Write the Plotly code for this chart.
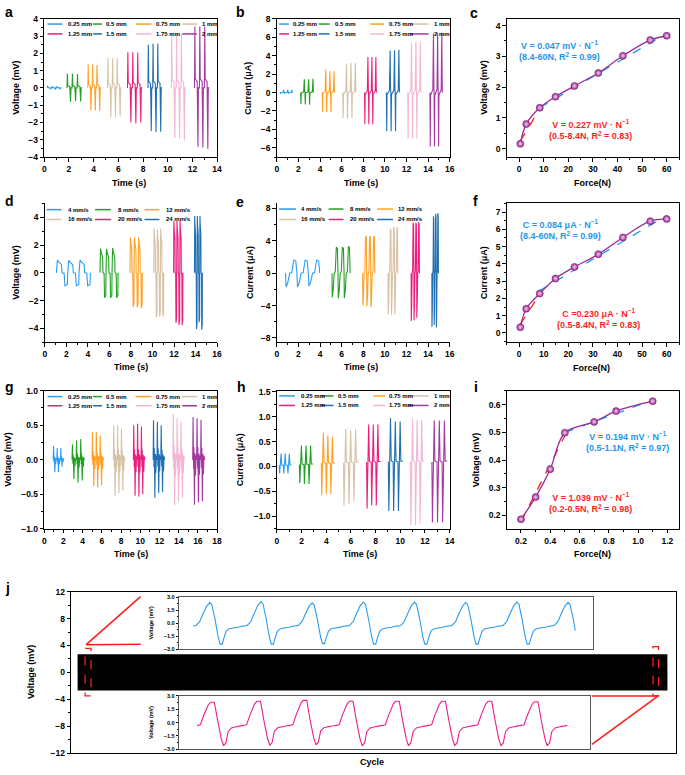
import numpy as np
import plotly.graph_objects as go

W, H = 685, 775
FONT = "Liberation Sans"

# ---------------- data ----------------
DIST_LABELS = ["0.25 mm", "0.5 mm", "0.75 mm", "1 mm", "1.25 mm", "1.5 mm", "1.75 mm", "2 mm"]
DIST_COLORS = ["#2b9cf0", "#23a023", "#ffa024", "#d6c2a6", "#ea1f7c", "#1f6fb2", "#f3b6d3", "#a33a9f"]
SPEED_LABELS = ["4 mm/s", "8 mm/s", "12 mm/s", "16 mm/s", "20 mm/s", "24 mm/s"]
SPEED_COLORS = ["#2b9cf0", "#23a023", "#ffa024", "#d6c2a6", "#ea1f7c", "#1f6fb2"]

# panel a : voltage vs time (distance)
A_START = [0.24, 1.84, 3.53, 5.13, 6.74, 8.40, 10.30, 12.17]
A_END = [1.39, 3.07, 4.60, 6.26, 7.94, 9.55, 11.47, 13.37]
A_PEAK = [[0.12, 0.1, 0.1], [0.84, 0.82, 0.8], [1.37, 1.35, 1.33], [1.75, 1.72, 1.72],
          [2.07, 2.07, 2.05], [2.5, 2.55, 2.57], [3.12, 3.12, 3.1], [3.56, 3.55, 3.55]]
A_TROUGH = [[-0.08, -0.1, -0.08], [-0.82, -0.75, -0.78], [-1.28, -1.3, -1.3], [-1.7, -1.7, -1.65],
            [-2.0, -2.05, -2.0], [-2.5, -2.55, -2.53], [-2.9, -2.97, -3.05], [-3.4, -3.45, -3.52]]

# panel b : current vs time (distance)
B_START = [0.30, 2.20, 4.20, 6.10, 8.12, 10.14, 12.12, 14.17]
B_END = [1.45, 3.40, 5.35, 7.33, 9.22, 11.36, 13.34, 15.33]
B_PEAK = [[0.3, 0.3, 0.3], [1.45, 1.45, 1.5], [2.5, 2.3, 2.3], [3.15, 3.2, 3.2],
          [3.85, 3.85, 3.85], [4.55, 4.6, 4.65], [5.4, 5.5, 5.6], [6.4, 6.5, 6.5]]
B_TROUGH = [[-0.15, -0.1, -0.1], [-1.25, -1.3, -1.3], [-2.1, -2.1, -2.1], [-2.8, -2.8, -2.8],
            [-3.45, -3.45, -3.45], [-4.2, -4.2, -4.2], [-4.95, -4.95, -4.95], [-5.85, -5.85, -5.85]]

# panel d : voltage vs time (speed)
D_START = [1.07, 5.12, 7.91, 10.12, 11.96, 13.90]
D_END = [4.23, 6.80, 9.05, 11.04, 12.82, 14.63]
D_PEAK = [[0.93, 0.9, 0.93], [1.75, 1.72, 1.78], [2.55, 2.55, 2.55], [3.2, 3.1, 3.2], [3.75, 3.75, 3.75], [4.1, 4.1, 4.1]]
D_TROUGH = [[-0.93, -0.93, -0.93], [-1.8, -1.8, -1.8], [-2.45, -2.45, -2.55], [-3.2, -3.15, -3.15],
            [-3.6, -3.75, -3.75], [-4.05, -3.55, -4.1]]

# panel e : current vs time (speed)
E_START = [0.80, 5.10, 7.94, 10.29, 12.43, 14.35]
E_END = [3.97, 6.78, 9.07, 11.20, 13.20, 14.96]
E_PEAK = [[1.6, 1.6, 1.6], [3.2, 3.2, 3.3], [4.6, 4.6, 4.6], [5.5, 5.7, 5.7], [6.2, 6.2, 6.3], [7.0, 7.3, 7.4]]
E_TROUGH = [[-1.7, -1.7, -1.6], [-3.0, -3.1, -3.1], [-4.0, -4.1, -4.2], [-5.1, -5.2, -5.1],
            [-5.9, -5.8, -5.5], [-6.6, -6.4, -6.7]]

# panel g : voltage vs time (distance, low force)
G_START = [0.93, 2.89, 4.98, 7.20, 9.28, 11.34, 13.40, 15.46]
G_END = [2.06, 4.19, 6.19, 8.40, 10.48, 12.54, 14.60, 16.70]
G_PEAK = [[0.2, 0.17, 0.17], [0.22, 0.28, 0.3], [0.4, 0.4, 0.35], [0.5, 0.5, 0.45],
          [0.5, 0.52, 0.48], [0.57, 0.55, 0.5], [0.67, 0.6, 0.55], [0.62, 0.6, 0.58]]
G_TROUGH = [[-0.18, -0.18, -0.1], [-0.28, -0.33, -0.3], [-0.38, -0.4, -0.37], [-0.52, -0.48, -0.45],
            [-0.52, -0.53, -0.5], [-0.55, -0.48, -0.47], [-0.66, -0.6, -0.55], [-0.65, -0.62, -0.6]]

# panel h : current vs time (distance, low force)
H_START = [0.19, 1.82, 3.60, 5.40, 7.27, 9.03, 10.82, 12.56]
H_END = [1.20, 2.94, 4.70, 6.60, 8.39, 10.20, 11.94, 13.80]
H_PEAK = [[0.26, 0.26, 0.26], [0.42, 0.42, 0.42], [0.68, 0.62, 0.6], [0.75, 0.72, 0.75],
          [0.84, 0.84, 0.84], [0.97, 0.9, 0.9], [0.95, 0.93, 0.93], [0.92, 0.92, 0.92]]
H_TROUGH = [[-0.14, -0.14, -0.14], [-0.33, -0.35, -0.35], [-0.58, -0.55, -0.55], [-0.78, -0.75, -0.7],
            [-0.84, -0.78, -0.78], [-0.89, -0.89, -0.89], [-1.18, -1.18, -1.15], [-1.12, -1.12, -1.12]]

# normalised cycle shapes (phase, level)
TPL_A = [(0, 0.0), (0.08, 1.0), (0.16, 0.15), (0.55, 0.1), (0.7, -1.0), (0.8, 0.0), (1.0, 0.0)]
TPL_B = [(0, 0.0), (0.08, -1.0), (0.16, -0.05), (0.7, 0.05), (0.85, 1.0), (0.95, 0.1), (1.0, 0.0)]
TPL_D = [(0, 0.0), (0.09, 1.0), (0.2, 0.85), (0.44, 0.65), (0.5, 0.0), (0.68, -0.02), (0.76, -1.0), (0.97, -0.9), (1.0, 0.0)]
TPL_E = [(0, 0.0), (0.05, -1.0), (0.2, -0.7), (0.37, 0.0), (0.55, 0.05), (0.72, 1.0), (0.9, 0.95), (1.0, 0.0)]
TPL_G = [(0, 0.0), (0.1, 1.0), (0.22, -0.2), (0.3, 0.3), (0.45, -1.0), (0.58, 0.15), (0.7, -0.35), (0.85, 0.1), (1.0, 0.0)]
TPL_H = [(0, 0.1), (0.1, -1.0), (0.45, 1.0), (0.6, 0.12), (1.0, 0.12)]

# panels c, f, i : force response
C_FORCE = [0.5, 2.9, 8.4, 14.8, 22.5, 32.2, 42.2, 53.3, 60]
C_VOLT = [0.16, 0.80, 1.33, 1.69, 2.04, 2.46, 3.02, 3.53, 3.67]
C_FIT_HI_X, C_FIT_HI_Y = [8.4, 60], [1.33, 3.75]
C_FIT_LO_X, C_FIT_LO_Y = [0.5, 8.4], [0.25, 1.30]
F_FORCE = [0.5, 2.9, 8.4, 14.8, 22.5, 32.2, 42.2, 53.3, 60]
F_CURR = [0.33, 1.40, 2.28, 3.15, 3.82, 4.56, 5.53, 6.47, 6.60]
F_FIT_HI_X, F_FIT_HI_Y = [8.4, 60], [2.45, 6.80]
F_FIT_LO_X, F_FIT_LO_Y = [0.5, 8.4], [0.50, 2.25]
I_FORCE = [0.2, 0.3, 0.4, 0.5, 0.7, 0.85, 1.1]
I_VOLT = [0.186, 0.266, 0.367, 0.499, 0.538, 0.577, 0.613]
I_FIT_HI_X, I_FIT_HI_Y = [0.5, 1.1], [0.50, 0.617]
I_FIT_LO_X, I_FIT_LO_Y = [0.2, 0.5], [0.177, 0.488]

# panel j : durability test
N_CYCLES = 2500
BAND_AMP = 2.7
TPL_TOP = [(-0.32, -0.12), (-0.27, -0.1), (-0.2, 0.08), (-0.13, 0.48), (-0.06, 0.84), (0.0, 1.0), (0.04, 0.88),
           (0.1, 0.2), (0.16, -0.6), (0.2, -0.96), (0.24, -0.96), (0.28, -0.64), (0.32, -0.36), (0.37, -0.26),
           (0.45, -0.22), (0.55, -0.18), (0.62, -0.14)]
TPL_BOT = [(-0.32, -0.13), (-0.25, -0.09), (-0.18, 0.35), (-0.08, 0.87), (-0.03, 1.0), (0.05, 1.0), (0.12, 0.13),
           (0.2, -0.69), (0.25, -1.0), (0.3, -0.88), (0.35, -0.38), (0.42, -0.23), (0.5, -0.19), (0.6, -0.15),
           (0.68, -0.12)]
TOP_PEAKS = [2.4, 2.5, 2.35, 2.45, 2.45, 2.4, 2.45, 2.4]
TOP_TROUGHS = [-2.5, -2.5, -2.45, -2.5, -2.5, -2.5, -2.5, -2.5]
BOT_PEAKS = [2.3, 2.4, 2.5, 2.4, 2.4, 2.4, 2.4, 2.35]
BOT_TROUGHS = [-2.6, -2.55, -2.5, -2.6, -2.6, -2.6, -2.6, -2.6]


# ---------------- helpers ----------------
def px(x):
    return x / W


def py(y):
    return 1 - y / H


def wave(start, end, peaks, troughs, tpl):
    n = len(peaks)
    per = (end - start) / n
    xs, ys = [], []
    for i in range(n):
        pts = tpl if i == n - 1 else tpl[:-1]
        for ph, w in pts:
            xs.append(start + (i + ph) * per)
            ys.append(w * peaks[i] if w >= 0 else w * abs(troughs[i]))
    return xs, ys


def cyc_wave(first_peak, peaks, troughs, tpl, x_end=None):
    xs, ys = [], []
    for k, (p, q) in enumerate(zip(peaks, troughs)):
        for off, w in tpl:
            xs.append(first_peak + k + off)
            ys.append(w * p if w >= 0 else w * abs(q))
    if x_end is not None:
        yend = float(np.interp(x_end, xs, ys))
        keep = [i for i, x in enumerate(xs) if x < x_end]
        xs = [xs[i] for i in keep] + [x_end]
        ys = [ys[i] for i in keep] + [yend]
    return xs, ys


fig = go.Figure()
layout = {}
annotations = []
shapes = []


def names(k):
    return ("x" if k == 1 else f"x{k}", "y" if k == 1 else f"y{k}")


def axis(domain, rng, anchor, dtick=None, minor=None, tick0=0, fmt=None, mirror=True,
         show=True, lc="black", fs=8.5, lw=1.2, tl=3.5):
    d = dict(domain=domain, range=rng, anchor=anchor, showgrid=False, zeroline=False, showline=True,
             linecolor=lc, linewidth=lw, mirror=mirror, fixedrange=True)
    if show:
        d.update(ticks="outside", ticklen=tl, tickwidth=1, tickcolor="black", dtick=dtick, tick0=tick0,
                 tickfont=dict(family=FONT, size=fs, color="black", weight="bold"))
        if minor:
            d["minor"] = dict(ticks="outside", ticklen=tl * 0.55, tickwidth=1, tickcolor="black",
                              dtick=minor, tick0=tick0, showgrid=False)
        if fmt:
            d["tickformat"] = fmt
    else:
        d.update(ticks="", showticklabels=False)
    return d


def setup(k, xpx, ypx, xr, yr, xd, xm, yd, ym, xt0=0, yt0=0, xfmt=None, yfmt=None, mirror=True):
    xn, yn = names(k)
    suf = "" if k == 1 else str(k)
    layout["xaxis" + suf] = axis([px(xpx[0]), px(xpx[1])], xr, yn, xd, xm, xt0, xfmt, mirror)
    layout["yaxis" + suf] = axis([py(ypx[1]), py(ypx[0])], yr, xn, yd, ym, yt0, yfmt, mirror)
    return xn, yn


def line(xn, yn, x, y, color, width=1.1, dash=None, shape="linear"):
    fig.add_trace(go.Scatter(x=x, y=y, xaxis=xn, yaxis=yn, mode="lines", showlegend=False, hoverinfo="skip",
                             line=dict(color=color, width=width, dash=dash, shape=shape, simplify=False)))


def text(x, y, s, size=9, color="black", angle=0, xa="center", ya="middle"):
    annotations.append(dict(x=px(x), y=py(y), xref="paper", yref="paper", text=s, showarrow=False,
                            textangle=angle, xanchor=xa, yanchor=ya,
                            font=dict(family=FONT, size=size, color=color, weight="bold")))


def legend(labels, colors, line_x, text_x, rows_y):
    ncol = len(line_x)
    for i, (lab, col) in enumerate(zip(labels, colors)):
        r, c = divmod(i, ncol)
        yy = rows_y[r]
        shapes.append(dict(type="line", xref="paper", yref="paper", x0=px(line_x[c][0]), x1=px(line_x[c][1]),
                           y0=py(yy), y1=py(yy), line=dict(color=col, width=1.5)))
        text(text_x[c], yy, lab, size=6, xa="left")


# ---------------- panel a ----------------
xa_, ya_ = setup(1, (42.7, 217.3), (14, 154), [0, 14], [-4, 4], 2, 1, 1, 0.5)
for s, e, p, t, c in zip(A_START, A_END, A_PEAK, A_TROUGH, DIST_COLORS):
    line(xa_, ya_, *wave(s, e, p, t, TPL_A), c)
legend(DIST_LABELS, DIST_COLORS, [(46, 61), (92, 101), (135, 151), (182, 197)], [65, 103, 154, 200], [19.3, 29.3])

# ---------------- panel b ----------------
xb, yb = setup(2, (277.7, 452.3), (14, 154), [0, 16], [-7, 8], 2, 1, 2, 1)
for s, e, p, t, c in zip(B_START, B_END, B_PEAK, B_TROUGH, DIST_COLORS):
    line(xb, yb, *wave(s, e, p, t, TPL_B), c)
legend(DIST_LABELS, DIST_COLORS, [(280, 290), (320, 331), (372, 386), (412, 431)], [292, 334, 389, 434], [19.3, 29.3])

# ---------------- panel c ----------------
PURPLE = "#9b2c95"
BLUE_T = "#1e96f0"
RED_T = "#ff1f1f"


def force_panel(xn, yn, fx, fy, hx, hy, lx, ly):
    line(xn, yn, hx, hy, BLUE_T, 1.3, "dash")
    line(xn, yn, lx, ly, RED_T, 1.3, "dash")
    line(xn, yn, fx, fy, PURPLE, 1.3, shape="spline")
    fig.add_trace(go.Scatter(x=fx, y=fy, xaxis=xn, yaxis=yn, mode="markers", showlegend=False, hoverinfo="skip",
                             marker=dict(size=7, color=PURPLE, gradient=dict(type="radial", color="#f2cdef"),
                                         line=dict(color="#7a1f75", width=0.6))))


xc, yc = setup(3, (510, 684), (14, 154), [-5, 65], [-0.27, 4.22], 10, 5, 1, 0.5)
force_panel(xc, yc, C_FORCE, C_VOLT, C_FIT_HI_X, C_FIT_HI_Y, C_FIT_LO_X, C_FIT_LO_Y)
text(563, 45.8, "V = 0.047 mV · N<sup>−1</sup><br>(8.4-60N, R<sup>2</sup> = 0.99)", 9, BLUE_T)
text(595, 126.2, "V = 0.227 mV · N<sup>−1</sup><br>(0.5-8.4N, R<sup>2</sup> = 0.83)", 9, RED_T)

# ---------------- panel d ----------------
xd_, yd_ = setup(4, (43.3, 217.3), (201, 341.7), [0, 16], [-5, 5], 2, 1, 2, 1, mirror=False)
for s, e, p, t, c in zip(D_START, D_END, D_PEAK, D_TROUGH, SPEED_COLORS):
    line(xd_, yd_, *wave(s, e, p, t, TPL_D), c)
legend(SPEED_LABELS, SPEED_COLORS, [(45, 60), (94, 110), (144, 159)], [65, 115, 164], [207.3, 217.3])

# ---------------- panel e ----------------
xe, ye = setup(5, (277.7, 452.3), (201, 341.7), [0, 16], [-8.53, 8.6], 2, 1, 4, 2, mirror=False)
for s, e, p, t, c in zip(E_START, E_END, E_PEAK, E_TROUGH, SPEED_COLORS):
    line(xe, ye, *wave(s, e, p, t, TPL_E), c)
legend(SPEED_LABELS, SPEED_COLORS, [(280, 297), (330, 345), (379, 395)], [300, 350, 398], [206.7, 217.3])

# ---------------- panel f ----------------
xf, yf = setup(6, (510, 684), (201, 341.7), [-5, 65], [-0.54, 7.5], 10, 5, 1, 0.5)
force_panel(xf, yf, F_FORCE, F_CURR, F_FIT_HI_X, F_FIT_HI_Y, F_FIT_LO_X, F_FIT_LO_Y)
text(564, 227.8, "C = 0.084 μA · N<sup>−1</sup><br>(8.4-60N, R<sup>2</sup> = 0.99)", 9, BLUE_T)
text(603, 317.8, "C =0.230 μA · N<sup>−1</sup><br>(0.5-8.4N, R<sup>2</sup> = 0.83)", 9, RED_T)

# ---------------- panel g ----------------
xg, yg = setup(7, (42.7, 217.3), (390.7, 530.7), [0, 18], [-1, 1], 2, 1, 0.5, 0.25, yfmt=".1f")
for s, e, p, t, c in zip(G_START, G_END, G_PEAK, G_TROUGH, DIST_COLORS):
    line(xg, yg, *wave(s, e, p, t, TPL_G), c)
legend(DIST_LABELS, DIST_COLORS, [(46, 61), (92, 101), (135, 151), (182, 197)], [65, 103, 154, 200], [396.7, 406])

# ---------------- panel h ----------------
xh, yh = setup(8, (277.7, 452.3), (390.7, 530.7), [0, 14], [-1.25, 1.52], 2, 1, 0.5, 0.25, yfmt=".1f")
for s, e, p, t, c in zip(H_START, H_END, H_PEAK, H_TROUGH, DIST_COLORS):
    line(xh, yh, *wave(s, e, p, t, TPL_H), c)
legend(DIST_LABELS, DIST_COLORS, [(280, 296), (322, 335), (375, 387), (410, 431)], [300, 337, 389, 434], [396, 405.7])

# ---------------- panel i ----------------
xi, yi = setup(9, (510, 684), (390.7, 530.7), [0.103, 1.28], [0.151, 0.651], 0.2, 0.1, 0.1, 0.05,
               xt0=0.2, yt0=0.2, xfmt=".1f", yfmt=".1f")
force_panel(xi, yi, I_FORCE, I_VOLT, I_FIT_HI_X, I_FIT_HI_Y, I_FIT_LO_X, I_FIT_LO_Y)
text(631.7, 442.5, "V = 0.194 mV · N<sup>−1</sup><br>(0.5-1.1N, R<sup>2</sup> = 0.97)", 9, BLUE_T)
text(594.3, 504.2, "V = 1.039 mV · N<sup>−1</sup><br>(0.2-0.5N, R<sup>2</sup> = 0.98)", 9, RED_T)

# ---------------- panel j ----------------
bx, by = cyc_wave(0.0, [BAND_AMP] * N_CYCLES, [-BAND_AMP] * N_CYCLES, TPL_TOP)
bx0, bx1 = min(bx), max(bx)
ppc = (671.7 - 77) / (bx1 - bx0)
j_range = [bx0 - (77 - 70) / ppc, bx1 + (680.7 - 671.7) / ppc]
layout["xaxis10"] = axis([px(70), px(680.7)], j_range, "y10", show=False, lw=1.3)
layout["yaxis10"] = axis([py(758), py(594.3)], [-12, 12], "x10", 4, 2, lw=1.3)
line("x10", "y10", bx, by, "black", 1.4)

# insets
tx, ty = cyc_wave(0.6, TOP_PEAKS, TOP_TROUGHS, TPL_TOP, x_end=7.74)
layout["xaxis11"] = axis([px(179), px(597.3)], [0, 8.09], "y11", show=False, lc="#555555", lw=1)
layout["yaxis11"] = axis([py(652.7), py(600)], [-3, 3], "x11", 1.5, 0.75, fmt=".1f", lc="#555555", fs=5.5, lw=1, tl=2.5)
line("x11", "y11", tx, ty, "#2b9cf0", 1.1)

sx, sy = cyc_wave(0.71, BOT_PEAKS, BOT_TROUGHS, TPL_BOT)
layout["xaxis12"] = axis([px(179), px(594.3)], [0, 8.89], "y12", show=False, lc="#555555", lw=1)
layout["yaxis12"] = axis([py(754), py(700)], [-3, 3], "x12", 1.5, 0.75, fmt=".1f", lc="#555555", fs=5.5, lw=1, tl=2.5)
line("x12", "y12", sx, sy, "#ea1f8c", 1.1)

RED = "#ff1a1a"
for (x0, x1, y0, y1) in [(84, 90, 651.7, 700), (657.7, 663.3, 650, 700)]:
    shapes.append(dict(type="rect", xref="paper", yref="paper", x0=px(x0), x1=px(x1), y0=py(y0), y1=py(y1),
                       line=dict(color=RED, width=1.3, dash="dash")))
for (x0, y0, x1, y1) in [(85, 648, 140, 599.3), (85, 648, 140, 647.7), (663, 700, 596, 700), (663, 700, 596, 749)]:
    shapes.append(dict(type="line", xref="paper", yref="paper", x0=px(x0), x1=px(x1), y0=py(y0), y1=py(y1),
                       line=dict(color=RED, width=1.5)))

# ---------------- titles ----------------
VT, CT, TT, FT = "Voltage (mV)", "Current (μA)", "Time (s)", "Force(N)"
for (x, y, s) in [(14, 84, VT), (248.3, 84, CT), (486.7, 84, VT), (13.3, 271, VT), (250, 271, CT),
                  (486.7, 271, CT), (6, 460.7, VT), (240, 460.7, CT), (478.3, 460.7, VT), (30, 676, VT)]:
    text(x, y, s, 9, angle=-90)
for (x, y, s) in [(128, 180, TT), (363, 180, TT), (597, 180, FT), (130, 366.7, TT), (363, 367, TT),
                  (596, 368, FT), (130, 556, TT), (362, 556, TT), (597, 556, FT), (374, 767, "Cycle")]:
    text(x, y, s, 9)
text(150, 626, VT, 5.5, angle=-90)
text(150, 727, VT, 5.5, angle=-90)
for (x, y, s) in [(1, 7, "a"), (234, 7.5, "b"), (471, 8, "c"), (1, 199, "d"), (234, 200, "e"), (474, 199, "f"),
                  (1, 387, "g"), (235, 387, "h"), (475, 387, "i"), (1, 591, "j")]:
    text(x, y, s, 14, xa="left")

fig.update_layout(**layout)
fig.update_layout(width=W, height=H, margin=dict(l=0, r=0, t=0, b=0), paper_bgcolor="white",
                  plot_bgcolor="rgba(0,0,0,0)", showlegend=False, annotations=annotations, shapes=shapes,
                  font=dict(family=FONT, color="black"))
fig.write_html("out.html", config={"displayModeBar": False},
               post_script="document.body.style.margin='0';")
